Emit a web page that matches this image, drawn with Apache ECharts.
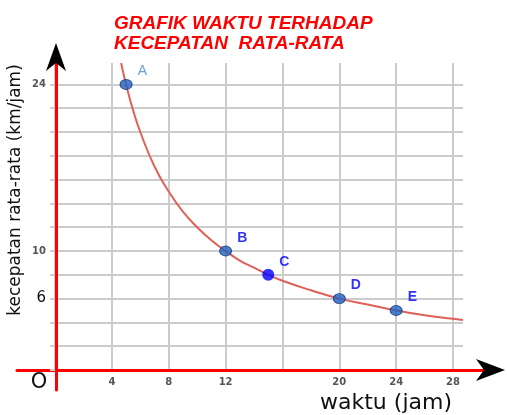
<!DOCTYPE html>
<html>
<head>
<meta charset="utf-8">
<script src="https://cdn.jsdelivr.net/npm/echarts@6/dist/echarts.min.js"></script>
<style>html,body{margin:0;padding:0;background:#fff}#c{width:507px;height:415px}</style>
</head>
<body>
<div id="c"></div>
<script>
// Curve (waktu, kecepatan)
var curveX = [4.65, 5, 5.5, 6, 7, 8, 9, 10, 11, 12, 13, 14, 15, 16, 18, 20, 22, 24, 26, 28, 28.7];
var curveY = [25.8, 24, 21.8, 20, 17.1, 15, 13.3, 12, 10.9, 10, 9.2, 8.6, 8, 7.5, 6.7, 6, 5.5, 5, 4.6, 4.3, 4.2];
// Labelled points
var pointNames = ['A', 'B', 'C', 'D', 'E'];
var pointX = [5, 12, 15, 20, 24];
var pointY = [24, 10, 8, 6, 5];
// Tick labels shown
var xTickLabels = [4, 8, 12, 20, 24, 28];
var yTickLabels = [24, 10, 6];

var chart = echarts.init(document.getElementById('c'), null, {renderer: 'canvas'});

var curveData = curveX.map(function (x, i) { return [x, curveY[i]]; });
var pointData = pointNames.map(function (n, i) {
  var isC = n === 'C';
  return {
    name: n,
    value: [pointX[i], pointY[i]],
    symbolSize: isC ? 12 : [12, 10],
    itemStyle: isC ? {color: '#0000ff', borderWidth: 0} : {color: '#1f62c4', borderColor: '#173a6e', borderWidth: 1},
    label: {color: n === 'A' ? '#4a86c8' : '#0000ff', fontWeight: n === 'A' ? 'normal' : 'bold'}
  };
});

var option = {
  animation: false,
  grid: [
    {left: 55, right: 44, top: 63, bottom: 45},
    {left: 17, right: 17, top: 63, bottom: 45},
    {left: 56, right: 44, top: 60, bottom: 25}
  ],
  xAxis: [
    {
      type: 'value', gridIndex: 0, min: 0, max: 28.7, interval: 4,
      axisLine: {show: false}, axisTick: {show: false},
      splitLine: {show: true, showMaxLine: false, lineStyle: {color: '#cccccc', width: 2}},
      axisLabel: {
        margin: 7, fontSize: 10, fontWeight: 'bold', color: '#555', fontFamily: 'DejaVu Sans',
        showMaxLabel: false,
        formatter: function (v) { return xTickLabels.indexOf(v) >= 0 ? String(v) : ''; }
      }
    },
    {
      type: 'value', gridIndex: 1, min: 0, max: 1,
      axisLine: {show: true, onZero: false, lineStyle: {color: '#ff0000', width: 3}},
      axisTick: {show: false}, axisLabel: {show: false}, splitLine: {show: false}
    },
    {type: 'value', gridIndex: 2, min: 0, max: 1, show: false}
  ],
  yAxis: [
    {
      type: 'value', gridIndex: 0, min: 0, max: 25.8, interval: 2,
      axisLine: {show: false},
      axisTick: {show: true, length: 5, lineStyle: {color: '#cccccc', width: 2}},
      splitLine: {show: true, showMaxLine: false, lineStyle: {color: '#cccccc', width: 2}},
      axisLabel: {
        margin: 9, showMaxLabel: false,
        formatter: function (v) {
          if (v === 6) return '{big|6}';
          return yTickLabels.indexOf(v) >= 0 ? '{sm|' + v + '}' : '';
        },
        rich: {
          sm: {fontSize: 10, fontWeight: 'bold', color: '#555', fontFamily: 'DejaVu Sans'},
          big: {fontSize: 15, color: '#111', fontFamily: 'DejaVu Sans'}
        }
      }
    },
    {type: 'value', gridIndex: 1, min: 0, max: 1, show: false},
    {
      type: 'value', gridIndex: 2, min: 0, max: 1,
      axisLine: {show: true, onZero: false, lineStyle: {color: '#ff0000', width: 3}},
      axisTick: {show: false}, axisLabel: {show: false}, splitLine: {show: false}
    }
  ],
  series: [
    {
      type: 'line', xAxisIndex: 0, yAxisIndex: 0, data: curveData, smooth: true,
      showSymbol: false, symbol: 'none',
      lineStyle: {color: '#e0605a', width: 2}, z: 3
    },
    {
      type: 'scatter', xAxisIndex: 0, yAxisIndex: 0, data: pointData, z: 5,
      label: {
        show: true, position: 'right', offset: [0, -13],
        formatter: '{b}', fontSize: 14, fontFamily: 'Liberation Sans'
      }
    }
  ],
  graphic: [
    {type: 'text', left: 114, top: 14, style: {
      text: 'GRAFIK WAKTU TERHADAP\nKECEPATAN  RATA-RATA',
      fill: '#ff0000', font: 'italic bold 19px "Liberation Sans"', lineHeight: 20
    }},
    {type: 'text', x: 16, y: 190, rotation: Math.PI / 2, style: {
      text: 'kecepatan rata-rata (km/jam)', fill: '#111',
      font: '17px "DejaVu Sans"', align: 'center', verticalAlign: 'middle'
    }},
    {type: 'text', x: 386, y: 403, style: {
      text: 'waktu (jam)', fill: '#111', font: '22px "DejaVu Sans"',
      align: 'center', verticalAlign: 'middle'
    }},
    {type: 'text', x: 39, y: 383, style: {
      text: 'O', fill: '#111', font: '21px "DejaVu Sans"',
      align: 'center', verticalAlign: 'middle'
    }},
    {type: 'polygon', shape: {points: [[505, 370], [476, 359], [484, 370], [476, 381]]}, style: {fill: '#000'}, z: 10},
    {type: 'polygon', shape: {points: [[56, 43], [66, 71], [56, 63], [46, 71]]}, style: {fill: '#000'}, z: 10}
  ]
};
chart.setOption(option);
</script>
</body>
</html>
